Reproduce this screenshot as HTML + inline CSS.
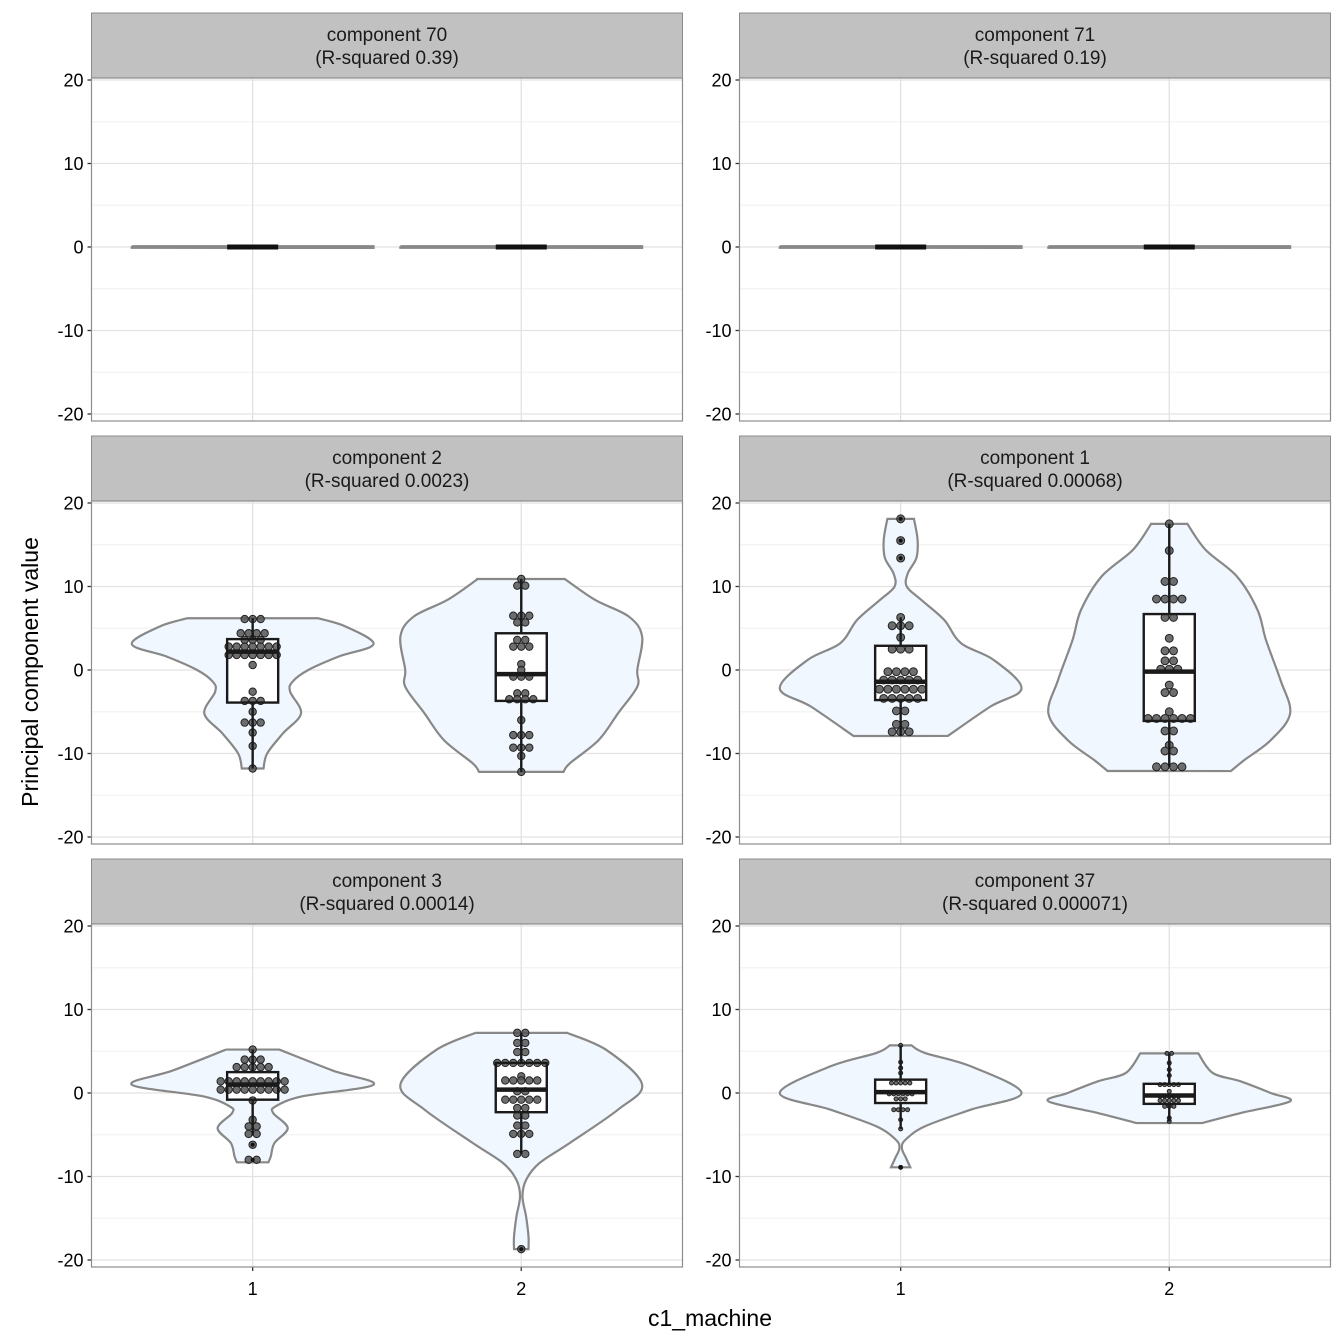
<!DOCTYPE html>
<html><head><meta charset="utf-8"><style>
html,body{margin:0;padding:0;background:#fff}
svg{display:block;font-family:"Liberation Sans",Arial,sans-serif}
</style></head><body>
<svg id="chart" width="1344" height="1344" viewBox="0 0 1344 1344" xmlns="http://www.w3.org/2000/svg"></svg>
<script>
// ---------- data ----------
const panelTitles = ["component 70","component 71","component 2","component 1","component 3","component 37"];
const panelRsq = ["(R-squared 0.39)","(R-squared 0.19)","(R-squared 0.0023)","(R-squared 0.00068)","(R-squared 0.00014)","(R-squared 0.000071)"];
const yTicks = [-20,-10,0,10,20];
const yMinor = [-15,-5,5,15];
const xCats = ["1","2"];

// component 70
const c70_g1_violinY=[0.1,-0.1], c70_g1_violinW=[1,1], c70_g1_box=[0,0,0,0,0], c70_g1_dots=[], c70_g1_counts=[], c70_g1_out=[];
const c70_g2_violinY=[0.1,-0.1], c70_g2_violinW=[1,1], c70_g2_box=[0,0,0,0,0], c70_g2_dots=[], c70_g2_counts=[], c70_g2_out=[];
// component 71
const c71_g1_violinY=[0.1,-0.1], c71_g1_violinW=[1,1], c71_g1_box=[0,0,0,0,0], c71_g1_dots=[], c71_g1_counts=[], c71_g1_out=[];
const c71_g2_violinY=[0.1,-0.1], c71_g2_violinW=[1,1], c71_g2_box=[0,0,0,0,0], c71_g2_dots=[], c71_g2_counts=[], c71_g2_out=[];
// component 2
const c2_g1_violinY=[6.2,5.2,3.1,1.6,0,-1.4,-2.6,-5.2,-7.6,-10,-11.8];
const c2_g1_violinW=[0.54,0.77,1.0,0.71,0.46,0.33,0.31,0.40,0.25,0.12,0.09];
const c2_g1_box=[-11.8,-3.9,2.2,3.7,6.2];
const c2_g1_dots=[6.1,4.4,3.6,2.8,1.8,0.6,-2.6,-3.7,-5,-6.3,-7.5,-9.1,-11.8];
const c2_g1_counts=[3,4,3,7,7,1,1,3,1,3,1,1,1];
const c2_g1_out=[];
const c2_g2_violinY=[10.9,8.4,6.4,4,0,-2,-5.2,-8.4,-11.2,-12.2];
const c2_g2_violinW=[0.36,0.61,0.89,1.0,0.96,0.96,0.80,0.64,0.40,0.35];
const c2_g2_box=[-12.2,-3.7,-0.5,4.4,10.9];
const c2_g2_dots=[10.9,10.1,6.5,5.7,3.6,2.8,0.7,0,-0.8,-2.8,-3.5,-6,-7.8,-9.3,-10.3,-12.2];
const c2_g2_counts=[1,2,3,2,2,3,1,1,3,2,4,1,3,3,1,1];
const c2_g2_out=[];
// component 1
const c1_g1_violinY=[18.1,15.6,13.4,11.6,10,8.4,6,3.2,1.2,-2.2,-4.4,-7.9];
const c1_g1_violinW=[0.11,0.14,0.13,0.06,0.05,0.17,0.36,0.5,0.77,1.0,0.74,0.39];
const c1_g1_box=[-7.9,-3.6,-1.4,2.9,6.3];
const c1_g1_dots=[18.1,15.5,13.4,6.3,5.3,3.9,2.5,-0.2,-1.2,-2.3,-3.4,-4.9,-6.5,-7.4];
const c1_g1_counts=[1,1,1,1,3,1,3,4,5,6,5,2,2,3];
const c1_g1_out=[18.1,15.5,13.4];
const c1_g2_violinY=[17.5,14.4,11.2,7.2,3.6,-1.2,-5.2,-8.4,-10.8,-12.1];
const c1_g2_violinW=[0.15,0.3,0.56,0.73,0.8,0.92,1.0,0.84,0.62,0.51];
const c1_g2_box=[-11.6,-6.1,-0.2,6.7,17.5];
const c1_g2_dots=[17.5,14.3,10.6,8.5,6.3,3.8,2.3,1.1,0.1,-1.8,-2.7,-5,-5.8,-7.3,-9,-9.7,-11.6];
const c1_g2_counts=[1,1,2,4,2,1,2,2,3,1,2,1,6,2,1,2,4];
const c1_g2_out=[];
// component 3
const c3_g1_violinY=[5.2,2.7,1.0,-0.4,-1.6,-2.4,-4.2,-6,-7.6,-8.3];
const c3_g1_violinW=[0.22,0.66,1.0,0.41,0.19,0.17,0.29,0.18,0.15,0.13];
const c3_g1_box=[-5.1,-0.8,1.0,2.5,5.2];
const c3_g1_dots=[5.2,4.0,3.1,1.4,0.4,-0.9,-3.2,-4,-4.9,-6.2,-8.0];
const c3_g1_counts=[1,3,5,9,9,1,1,2,2,1,2];
const c3_g1_out=[-6.2,-8.0];
const c3_g2_violinY=[7.2,5.1,1.0,-2.0,-6.0,-8.4,-10.4,-12.4,-14.8,-17.2,-18.7];
const c3_g2_violinW=[0.38,0.71,1.0,0.80,0.40,0.15,0.04,0.01,0.04,0.06,0.06];
const c3_g2_box=[-7.3,-2.3,0.4,3.6,7.2];
const c3_g2_dots=[7.2,6.0,4.9,3.6,2.0,1.5,0.2,-0.8,-1.8,-2.7,-3.9,-4.9,-7.3,-18.7];
const c3_g2_counts=[2,2,2,7,1,5,2,5,2,2,2,3,2,1];
const c3_g2_out=[-18.7];
// component 37
const c37_g1_violinY=[5.7,4.8,3.2,0,-2,-4,-5.6,-6.6,-7.8,-8.9];
const c37_g1_violinW=[0.09,0.2,0.58,1.0,0.58,0.2,0.04,0.01,0.045,0.08];
const c37_g1_box=[-4.3,-1.2,0.1,1.6,5.7];
const c37_g1_dots=[5.7,3.7,3.0,2.4,1.2,-0.1,-0.7,-2.0,-3.2,-4.3,-8.9];
const c37_g1_counts=[1,1,1,1,5,6,3,4,1,1,1];
const c37_g1_out=[-8.9];
const c37_g2_violinY=[4.75,2.4,1.4,0,-1.0,-2.4,-3.6];
const c37_g2_violinW=[0.24,0.36,0.59,0.84,1.0,0.59,0.27];
const c37_g2_box=[-3.4,-1.3,-0.3,1.1,4.75];
const c37_g2_dots=[4.75,3.6,2.8,2.1,1.0,0.2,-0.4,-0.9,-1.6,-3.0,-3.4];
const c37_g2_counts=[2,1,1,1,5,1,5,5,3,1,1];
const c37_g2_out=[];

const panelGroups = [
 [[c70_g1_violinY,c70_g1_violinW,c70_g1_box,c70_g1_dots,c70_g1_counts,c70_g1_out],[c70_g2_violinY,c70_g2_violinW,c70_g2_box,c70_g2_dots,c70_g2_counts,c70_g2_out]],
 [[c71_g1_violinY,c71_g1_violinW,c71_g1_box,c71_g1_dots,c71_g1_counts,c71_g1_out],[c71_g2_violinY,c71_g2_violinW,c71_g2_box,c71_g2_dots,c71_g2_counts,c71_g2_out]],
 [[c2_g1_violinY,c2_g1_violinW,c2_g1_box,c2_g1_dots,c2_g1_counts,c2_g1_out],[c2_g2_violinY,c2_g2_violinW,c2_g2_box,c2_g2_dots,c2_g2_counts,c2_g2_out]],
 [[c1_g1_violinY,c1_g1_violinW,c1_g1_box,c1_g1_dots,c1_g1_counts,c1_g1_out],[c1_g2_violinY,c1_g2_violinW,c1_g2_box,c1_g2_dots,c1_g2_counts,c1_g2_out]],
 [[c3_g1_violinY,c3_g1_violinW,c3_g1_box,c3_g1_dots,c3_g1_counts,c3_g1_out],[c3_g2_violinY,c3_g2_violinW,c3_g2_box,c3_g2_dots,c3_g2_counts,c3_g2_out]],
 [[c37_g1_violinY,c37_g1_violinW,c37_g1_box,c37_g1_dots,c37_g1_counts,c37_g1_out],[c37_g2_violinY,c37_g2_violinW,c37_g2_box,c37_g2_dots,c37_g2_counts,c37_g2_out]]
];
const dotDiam = [7.5,7.5,8,8.5,8,4.6];

// ---------- drawing ----------
const NS="http://www.w3.org/2000/svg";
const svg=document.getElementById('chart');
function el(tag,attrs,parent){const e=document.createElementNS(NS,tag);for(const k in attrs)e.setAttribute(k,attrs[k]);(parent||svg).appendChild(e);return e;}
const COLX=[91.5,739.5], PW=591, STRIPT=[13,436,859], SH=65, PH=343;
const XU=268.6;
function xScale(col,v){return COLX[col]+(v-0.4)*XU;}
function yScale(row,v){return STRIPT[row]+SH+2+(20-v)*8.35;}

function smoothPath(pts){
  let d="";
  for(let i=0;i<pts.length-1;i++){
    const p0=pts[Math.max(0,i-1)],p1=pts[i],p2=pts[i+1],p3=pts[Math.min(pts.length-1,i+2)];
    const c1=[p1[0]+(p2[0]-p0[0])/6,p1[1]+(p2[1]-p0[1])/6];
    const c2=[p2[0]-(p3[0]-p1[0])/6,p2[1]-(p3[1]-p1[1])/6];
    d+=` C${c1[0].toFixed(2)},${c1[1].toFixed(2)} ${c2[0].toFixed(2)},${c2[1].toFixed(2)} ${p2[0].toFixed(2)},${p2[1].toFixed(2)}`;
  }
  return d;
}

for(let p=0;p<6;p++){
  const row=Math.floor(p/2), col=p%2;
  const x0=COLX[col], st=STRIPT[row], pt=st+SH;
  const g=el('g',{});
  
  
  const strip=el('rect',{x:x0,y:st,width:PW,height:SH,fill:'#c1c1c1',stroke:'#8c8c8c','stroke-width':1},g);
  
  
  const t1=el('text',{x:x0+PW/2,y:st+28,'text-anchor':'middle','font-size':19,fill:'#1a1a1a'},g);t1.textContent=panelTitles[p];
  
  
  const t2=el('text',{x:x0+PW/2,y:st+51,'text-anchor':'middle','font-size':19,fill:'#1a1a1a'},g);t2.textContent=panelRsq[p];
  
  
  el('rect',{x:x0,y:pt,width:PW,height:PH,fill:'#fff'},g);
  yMinor.forEach(v=>el('line',{x1:x0,x2:x0+PW,y1:yScale(row,v),y2:yScale(row,v),stroke:'#f3f3f3','stroke-width':1.2},g));
  yTicks.forEach(v=>{
    el('line',{x1:x0,x2:x0+PW,y1:yScale(row,v),y2:yScale(row,v),stroke:'#e2e2e2','stroke-width':1.3},g);
    el('line',{x1:x0-4,x2:x0,y1:yScale(row,v),y2:yScale(row,v),stroke:'#333','stroke-width':1.3},g);
    const tl=el('text',{x:x0-8,y:yScale(row,v)+6.5,'text-anchor':'end','font-size':18,fill:'#000'},g);
    tl.textContent=String(v);
    
    
  });
  xCats.forEach((c,i)=>{
    const xx=xScale(col,i+1);
    el('line',{x1:xx,x2:xx,y1:pt,y2:pt+PH,stroke:'#e2e2e2','stroke-width':1.3},g);
    if(row===2){
      el('line',{x1:xx,x2:xx,y1:pt+PH,y2:pt+PH+4,stroke:'#333','stroke-width':1.3},g);
      const xl=el('text',{x:xx,y:pt+PH+28,'text-anchor':'middle','font-size':18,fill:'#000'},g);
      xl.textContent=c;
      
      
    }
  });
  panelGroups[p].forEach((grp,gi)=>{
    const [vy,vw,box,dots,counts,outs]=grp;
    const cx=xScale(col,gi+1);
    const half=0.45*XU;
    const right=vy.map((v,i)=>[cx+vw[i]*half,yScale(row,v)]);
    const left=vy.map((v,i)=>[cx-vw[i]*half,yScale(row,v)]).reverse();
    let d=`M${left[left.length-1][0]},${right[0][1]} L${right[0][0]},${right[0][1]}`+smoothPath(right)+` L${left[0][0]},${left[0][1]}`+smoothPath(left)+' Z';
    const vp=el('path',{d:d,fill:'#f1f7ff',stroke:'#888','stroke-width':2.2},g);
    
    
    const bw=0.19*XU;
    const yq1=yScale(row,box[1]),yq3=yScale(row,box[3]),ym=yScale(row,box[2]);
    const flat=(yq1-yq3)<1;
    if(!flat) el('rect',{x:cx-bw/2,y:yq3,width:bw,height:yq1-yq3,fill:'#fff'},g);
    const dd=dotDiam[p];
    dots.forEach((v,i)=>{
      const n=counts[i];
      for(let k=0;k<n;k++){
        const dx=(k-(n-1)/2)*dd;
        const c=el('circle',{cx:cx+dx,cy:yScale(row,v),r:dd/2-0.3,fill:'#555','fill-opacity':0.85,stroke:'#222','stroke-width':1},g);
        
        
      }
    });
    if(flat){
      const fb=el('line',{x1:cx-bw/2,x2:cx+bw/2,y1:ym,y2:ym,stroke:'#111','stroke-width':5},g);
      
      
    } else {
      el('line',{x1:cx,x2:cx,y1:yScale(row,box[4]),y2:yq3,stroke:'#1a1a1a','stroke-width':2.4},g);
      el('line',{x1:cx,x2:cx,y1:yq1,y2:yScale(row,box[0]),stroke:'#1a1a1a','stroke-width':2.4},g);
      const br=el('rect',{x:cx-bw/2,y:yq3,width:bw,height:yq1-yq3,fill:'none',stroke:'#1a1a1a','stroke-width':2.4},g);
      
      
      el('line',{x1:cx-bw/2,x2:cx+bw/2,y1:ym,y2:ym,stroke:'#1a1a1a','stroke-width':4.5},g);
    }
    outs.forEach(v=>el('circle',{cx:cx,cy:yScale(row,v),r:2,fill:'#111'},g));
  });
  el('rect',{x:x0,y:pt,width:PW,height:PH,fill:'none',stroke:'#8c8c8c','stroke-width':1.2},g);
}
const xt=el('text',{x:710,y:1326,'text-anchor':'middle','font-size':23,fill:'#000'});
xt.textContent='c1_machine';


const yt=el('text',{x:0,y:0,'text-anchor':'middle','font-size':23,fill:'#000',transform:'translate(38,672) rotate(-90)'});
yt.textContent='Principal component value';


</script>
</body></html>
